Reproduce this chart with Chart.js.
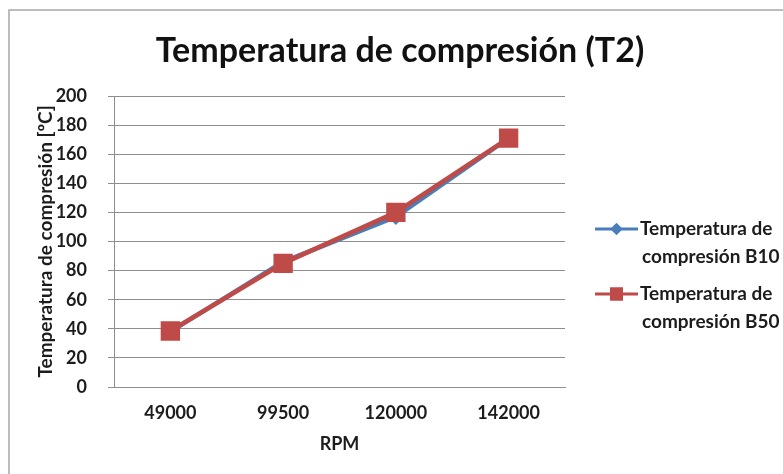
<!DOCTYPE html>
<html lang="es">
<head>
    <meta charset="UTF-8">
    <title>Temperatura de compresión (T2)</title>
    <script src="https://cdn.jsdelivr.net/npm/chart.js"></script>
    <style>
        body { margin: 0; background: #fff; }
        #wrap { width: 783px; height: 474px; }
    </style>
</head>
<body>
    <div id="wrap"><canvas id="chart" width="783" height="474"></canvas></div>
    <script>
        // --- Data ---
        const rpm = ['49000', '99500', '120000', '142000'];
        const tempB10 = [38, 86, 117, 171];
        const tempB50 = [38.5, 85, 120, 171];
        const labelB10 = ['Temperatura de', 'compresión B10'];
        const labelB50 = ['Temperatura de', 'compresión B50'];
        const chartTitle = 'Temperatura de compresión (T2)';

        const blue = '#4a7ebb';
        const red = '#be4b48';
        const gridColor = '#8e8e8e';
        const textColor = '#1c1c1c';
        const fontFamily = 'Lato, "Open Sans", sans-serif';

        // frame around the chart (cut off at the right and bottom like the source) + title
        const framePlugin = {
            id: 'frame',
            beforeDraw(chart) {
                const ctx = chart.ctx;
                ctx.save();
                ctx.fillStyle = '#fff';
                ctx.fillRect(0, 0, chart.width, chart.height);
                ctx.strokeStyle = '#a8a8a8';
                ctx.lineWidth = 1.5;
                ctx.strokeRect(9, 10, chart.width + 20, chart.height + 20);
                // title, centred on the whole frame
                ctx.fillStyle = '#111';
                ctx.font = 'bold 34px ' + fontFamily;
                ctx.textAlign = 'center';
                ctx.textBaseline = 'middle';
                ctx.fillText(chartTitle, (9 + chart.width) / 2 + 4, 51);
                ctx.restore();
            }
        };

        // legend on the right with two-line labels
        const sideLegend = {
            id: 'sideLegend',
            afterDraw(chart) {
                const ctx = chart.ctx;
                const area = chart.chartArea;
                const x0 = area.right + 30;
                const lineLen = 43;
                const firstY = area.top + 133;
                const gap = 65;
                ctx.save();
                chart.data.datasets.forEach((ds, i) => {
                    const y = firstY + i * gap;
                    ctx.strokeStyle = ds.borderColor;
                    ctx.lineWidth = 3;
                    ctx.beginPath();
                    ctx.moveTo(x0, y);
                    ctx.lineTo(x0 + lineLen, y);
                    ctx.stroke();
                    Chart.helpers.drawPoint(ctx, {
                        pointStyle: ds.pointStyle,
                        radius: ds.pointStyle === 'rect' ? 7 : 4,
                        borderWidth: 1
                    }, x0 + lineLen / 2, y);
                    ctx.fillStyle = ds.pointBackgroundColor;
                    ctx.strokeStyle = ds.pointBorderColor;
                    ctx.fill();
                    ctx.stroke();
                    ctx.fillStyle = textColor;
                    ctx.font = 'bold 19px ' + fontFamily;
                    ctx.textBaseline = 'middle';
                    ctx.textAlign = 'left';
                    ds.legendLines.forEach((t, k) => {
                        ctx.fillText(t, x0 + lineLen + 2 + k * 2, y + k * 28);
                    });
                });
                ctx.restore();
            }
        };

        new Chart(document.getElementById('chart'), {
            type: 'line',
            data: {
                labels: rpm,
                datasets: [
                    {
                        label: labelB10.join(' '),
                        legendLines: labelB10,
                        data: tempB10,
                        borderColor: blue,
                        backgroundColor: blue,
                        pointBackgroundColor: blue,
                        pointBorderColor: blue,
                        pointStyle: 'rectRot',
                        pointRadius: 5,
                        borderWidth: 4.5,
                        tension: 0,
                        order: 1
                    },
                    {
                        label: labelB50.join(' '),
                        legendLines: labelB50,
                        data: tempB50,
                        borderColor: red,
                        backgroundColor: red,
                        pointBackgroundColor: red,
                        pointBorderColor: red,
                        pointStyle: 'rect',
                        pointRadius: 10.5,
                        borderWidth: 4.5,
                        tension: 0,
                        order: 0
                    }
                ]
            },
            options: {
                responsive: false,
                animation: false,
                layout: { padding: { top: 96, left: 0, right: 218, bottom: 0 } },
                plugins: {
                    legend: { display: false },
                    tooltip: { enabled: false },
                    title: { display: false }
                },
                scales: {
                    x: {
                        offset: true,
                        grid: { display: false, drawTicks: false },
                        border: { display: true, color: gridColor, width: 1 },
                        ticks: {
                            color: textColor,
                            padding: 15,
                            font: { family: fontFamily, size: 18, weight: 'bold' }
                        },
                        title: {
                            display: true,
                            text: 'RPM',
                            color: textColor,
                            font: { family: fontFamily, size: 18, weight: 'bold' },
                            padding: { top: 0, bottom: 19 }
                        },
                        afterFit(scale) { scale.height = 87; }
                    },
                    y: {
                        min: 0,
                        max: 200,
                        grid: { color: gridColor, lineWidth: 1, tickLength: 6 },
                        border: { color: gridColor, width: 1 },
                        ticks: {
                            stepSize: 20,
                            color: textColor,
                            padding: 21,
                            font: { family: fontFamily, size: 18, weight: 'bold' }
                        },
                        title: {
                            display: true,
                            text: 'Temperatura de compresión [ºC]',
                            color: textColor,
                            font: { family: fontFamily, size: 19, weight: 'bold' },
                            padding: { top: 34, bottom: 0 }
                        },
                        afterFit(scale) { scale.width = 114; }
                    }
                }
            },
            plugins: [framePlugin, sideLegend]
        });
    </script>
</body>
</html>
